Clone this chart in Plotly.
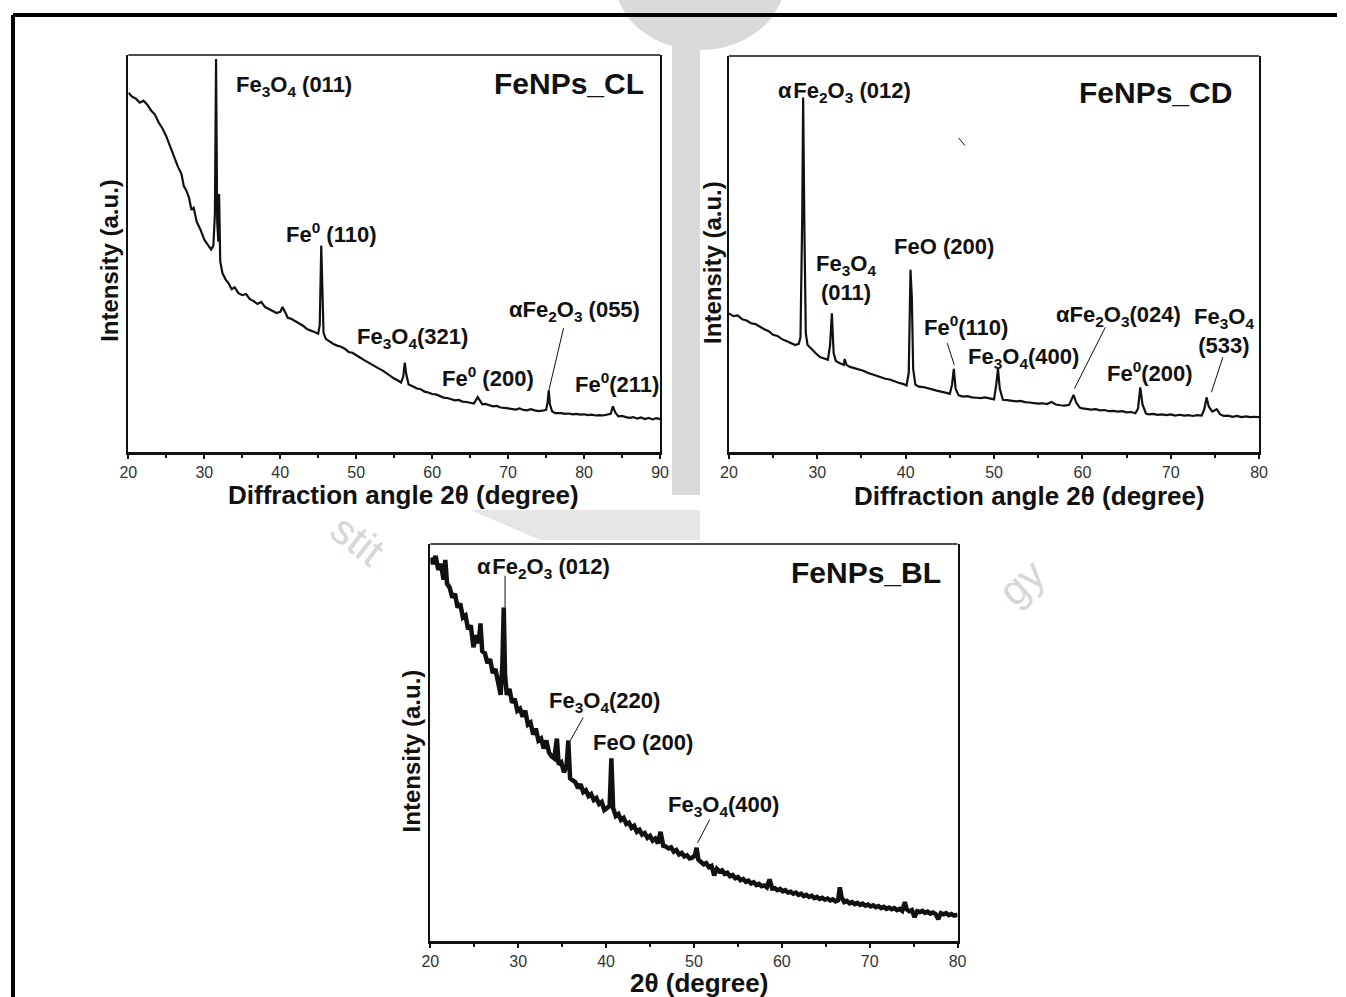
import plotly.graph_objects as go

W, H = 1346, 997
FONT = "Liberation Sans, Arial, sans-serif"
INK = "#111111"

# ---- FeNPs_CL : 2theta (degree) / intensity (a.u.)
cl_2theta = [20, 20.5, 21, 21.5, 22, 22.5, 23, 23.5, 24, 24.5, 25, 25.5, 26, 26.5, 27, 27.3, 27.6, 28, 28.3, 28.6,
             29, 29.5, 30, 30.5, 30.9, 31.2, 31.4, 31.55, 31.7, 31.85, 31.95, 32.1, 32.4, 32.8, 33.2, 33.6, 34, 34.5,
             35, 35.5, 36, 36.5, 37, 37.5, 38, 38.5, 39, 39.5, 40, 40.3, 40.7, 41, 41.5, 42, 42.5, 43, 43.5, 44,
             44.5, 45, 45.2, 45.4, 45.55, 45.7, 46, 46.5, 47, 47.5, 48, 48.5, 49, 49.5, 50, 50.5, 51, 51.5, 52,
             52.5, 53, 53.5, 54, 54.5, 55, 55.5, 55.9, 56.2, 56.4, 56.6, 56.9, 57.5, 58, 58.5, 59, 59.5, 60, 60.5,
             61, 61.5, 62, 62.5, 63, 63.5, 64, 64.5, 65, 65.5, 66, 66.3, 66.6, 67, 67.5, 68, 68.5, 69, 69.5, 70,
             70.5, 71, 71.5, 72, 72.5, 73, 73.5, 74, 74.5, 75, 75.2, 75.35, 75.5, 75.8, 76.2, 77, 77.5, 78, 78.5,
             79, 79.5, 80, 80.5, 81, 81.5, 82, 82.5, 83, 83.5, 83.8, 84.1, 84.5, 85, 85.5, 86, 86.5, 87, 87.5, 88,
             88.5, 89, 89.5, 90]
cl_int = [90.5, 89.5, 89, 88, 88.5, 87.5, 86, 85, 83, 81.5, 79.5, 77, 74, 72, 70, 67, 66, 64, 61, 61.5,
          58, 56, 53.5, 52, 51, 52, 60, 99, 58, 53, 65, 48, 45, 43.5, 42.5, 41, 41.5, 40,
          39.5, 39.8, 38.5, 38, 37.3, 37.8, 36.5, 36, 35.5, 35, 35.3, 36.5, 35, 33.8, 33.5, 33, 32.5, 31.8, 31, 30.5,
          30.2, 29.8, 32, 52, 38, 30, 28.5, 27.8, 27.2, 26.8, 26.5, 26, 25.2, 25, 24.3, 23.8, 23.2, 22.6, 22.2,
          21.6, 21, 20.5, 19.8, 19, 18.5, 18, 17.5, 19, 22.5, 19.5, 17, 16.5, 16, 15.8, 15.2, 15, 14.6, 14.5,
          14, 13.7, 13.6, 13.2, 13, 13.1, 12.7, 12.6, 12.4, 12.2, 13.8, 12.8, 12, 12.1, 11.7, 11.5, 11.6, 11.2, 11.1, 11,
          10.9, 10.7, 11, 10.6, 10.5, 10.8, 10.5, 10.3, 10.4, 10.6, 12.5, 15.5, 12, 10.2, 9.8, 9.8, 9.6, 9.7, 9.5,
          9.6, 9.4, 9.5, 9.3, 9.4, 9.2, 9.3, 9.2, 9.4, 9.6, 11.5, 10, 9, 9.1, 8.8, 8.6, 8.8, 8.4, 8.7, 8.3,
          8.6, 8.2, 8.5, 8.3]

# ---- FeNPs_CD
cd_2theta = [20, 20.5, 21, 21.5, 22, 22.5, 23, 23.5, 24, 24.5, 25, 25.5, 26, 26.5, 27, 27.5, 27.9, 28.1, 28.3, 28.4,
             28.55, 28.7, 28.9, 29.3, 29.8, 30.3, 30.8, 31.2, 31.45, 31.65, 31.85, 32.1, 32.5, 33, 33.1, 33.3, 33.7,
             34.2, 34.7, 35.2, 35.7, 36.2, 36.7, 37.2, 37.7, 38.2, 38.7, 39.2, 39.7, 40.1, 40.35, 40.55, 40.7, 40.85,
             41.1, 41.5, 42, 42.5, 43, 43.5, 44, 44.5, 45, 45.25, 45.45, 45.65, 46, 46.5, 47, 47.5, 48, 48.5, 49,
             49.5, 50, 50.25, 50.45, 50.65, 51, 51.5, 52, 52.5, 53, 53.5, 54, 54.5, 55, 55.5, 56, 56.5, 57, 57.5, 58,
             58.5, 58.8, 59.0, 59.3, 59.7, 60, 60.5, 61, 61.5, 62, 62.5, 63, 63.5, 64, 64.5, 65, 65.5, 66, 66.3,
             66.55, 66.8, 67.2, 67.5, 68, 68.5, 69, 69.5, 70, 70.5, 71, 71.5, 72, 72.5, 73, 73.5, 73.8, 74.05, 74.3,
             74.7, 75.2, 75.6, 76, 76.5, 77, 77.5, 78, 78.5, 79, 79.5, 80]
cd_int = [35, 34.3, 34.5, 33.5, 33.2, 32.5, 32.3, 31.6, 31, 30.5, 29.6, 29.3, 28.5, 28, 27.5, 27, 27.3, 29, 60, 89.5,
          55, 30, 27, 26, 25, 24, 23.5, 23.3, 27, 35, 25, 23, 22.5, 22, 23.5, 22, 21.5,
          21.2, 20.8, 20.5, 20, 19.6, 19.3, 19, 18.5, 18.3, 17.8, 17.5, 17.2, 16.8, 20, 46, 39, 21,
          17, 16.5, 16.4, 16, 15.8, 15.5, 15.3, 15, 14.7, 17, 21, 16, 14.3, 14, 14.1, 13.8, 13.7, 13.6, 13.8,
          13.5, 13.3, 17, 21, 16, 13.2, 13.1, 13, 12.8, 12.9, 12.6, 12.5, 12.4, 12.2, 12.3, 12.1, 12.6, 12, 11.8, 11.7,
          11.9, 13.5, 14.4, 12.5, 11.2, 11, 10.9, 10.7, 10.8, 10.5, 10.6, 10.3, 10.4, 10.2, 10.3, 10, 10.1, 9.8, 11,
          16.3, 12, 9.7, 9.5, 9.6, 9.4, 9.5, 9.3, 9.5, 9.2, 9.4, 9.2, 9.3, 9.1, 9.3, 9.2, 10.8, 13.8, 11.5,
          10.2, 10.8, 9.5, 9.1, 9.2, 8.9, 9.1, 8.8, 9, 8.8, 8.9, 8.8]

# ---- FeNPs_BL
bl_2theta = [20, 20.3, 20.6, 20.9, 21.2, 21.5, 21.7, 21.9, 22.2, 22.5, 22.8, 23.1, 23.4, 23.7, 24, 24.3, 24.6, 24.9,
             25.2, 25.5, 25.7, 25.9, 26.2, 26.5, 26.8, 27.1, 27.4, 27.7, 28.0, 28.2, 28.35, 28.5, 28.7, 29, 29.3,
             29.6, 29.9, 30.2, 30.5, 30.8, 31.1, 31.4, 31.7, 32, 32.3, 32.6, 32.9, 33.2, 33.5, 33.8, 34.1, 34.4,
             34.6, 34.9, 35.2, 35.5, 35.7, 35.9, 36.2, 36.5, 36.8, 37.1, 37.4, 37.7, 38, 38.3, 38.6, 38.9, 39.2,
             39.5, 39.8, 40.1, 40.4, 40.6, 40.8, 41.1, 41.4, 41.7, 42, 42.3, 42.6, 42.9, 43.2, 43.5, 43.8, 44.1,
             44.4, 44.7, 45, 45.3, 45.6, 45.9, 46.2, 46.5, 46.8, 47.1, 47.4, 47.7, 48, 48.3, 48.6, 48.9, 49.2,
             49.5, 49.8, 50.1, 50.3, 50.5, 50.8, 51.1, 51.4, 51.7, 52, 52.3, 52.6, 52.9, 53.2, 53.5, 53.8, 54.1,
             54.4, 54.7, 55, 55.3, 55.6, 55.9, 56.2, 56.5, 56.8, 57.1, 57.4, 57.7, 58, 58.3, 58.6, 58.9, 59.2,
             59.5, 59.8, 60.1, 60.4, 60.7, 61, 61.3, 61.6, 61.9, 62.2, 62.5, 62.8, 63.1, 63.4, 63.7, 64, 64.3,
             64.6, 64.9, 65.2, 65.5, 65.8, 66.1, 66.4, 66.6, 66.8, 67.1, 67.4, 67.7, 68, 68.3, 68.6, 68.9, 69.2,
             69.5, 69.8, 70.1, 70.4, 70.7, 71, 71.3, 71.6, 71.9, 72.2, 72.5, 72.8, 73.1, 73.4, 73.7, 74, 74.2,
             74.5, 74.8, 75.1, 75.4, 75.7, 76, 76.3, 76.6, 76.9, 77.2, 77.5, 77.8, 78.1, 78.4, 78.7, 79, 79.3,
             79.6, 80]
bl_int = [96.5, 95, 97, 93.5, 95, 91, 96, 90, 89, 86.5, 87.5, 84, 85, 81.5, 82, 78.5, 79.5, 74,
          77, 75, 80, 73, 72.5, 70, 71, 67.5, 68.5, 65, 62, 70, 84, 67, 62, 63.5, 60,
          61, 58, 58.5, 56.5, 58, 54.5, 55, 52, 53.5, 50.5, 51, 48.5, 50.5, 47.5, 46.5, 46, 51,
          44.5, 45, 42.5, 44, 50.5, 41, 40.5, 40, 38.5, 39.5, 37.5, 38, 36.5, 37, 35.5, 36, 34.5,
          35, 33, 33.5, 34, 46, 33.5, 31.5, 32, 30.5, 31, 29.5, 29.8, 28.5, 29, 27.5, 28, 26.8,
          27.2, 26, 26.5, 25.3, 25.8, 24.6, 27.5, 24, 23.8, 23.3, 23.6, 22.5, 22.9, 21.8, 22.2, 21.3, 21.6,
          20.8, 21, 21.5, 23.5, 20.5, 19.8, 19.3, 19.6, 18.6, 18.9, 16.5, 18.2, 17.5, 17.8, 16.9, 17.2, 16.3,
          16.6, 15.8, 16.1, 15.3, 15.6, 14.9, 15.2, 14.5, 14.8, 14.1, 14.4, 13.8, 14, 13.5, 15.5, 13.2, 13.3,
          12.8, 13.1, 12.5, 12.8, 12.2, 12.4, 11.9, 12.2, 11.6, 11.9, 11.3, 11.6, 11.1, 11.4, 10.8, 11.1, 10.6,
          10.9, 10.4, 10.7, 10.2, 10.5, 10, 10.3, 13.5, 11, 9.8, 10.1, 9.5, 9.8, 9.3, 9.6, 9.1, 9.4,
          8.9, 9.2, 8.7, 9, 8.5, 8.8, 8.3, 8.6, 8.1, 8.4, 8, 8.3, 7.8, 8.1, 7.6, 9.8, 8,
          7.5, 7.8, 6, 7.5, 7.3, 7.6, 7.1, 7.4, 6.9, 7.2, 6.8, 5.5, 7, 6.7, 7, 6.5, 6.8,
          6.4, 6.6]

x_ticks = [20, 30, 40, 50, 60, 70, 80, 90]

# peak labels: text, 2theta, intensity
cl_labels = [("Fe<sub>3</sub>O<sub>4</sub> (011)", 33.87, 92.2),
             ("Fe<sup>0</sup> (110)", 40.44, 55.2),
             ("Fe<sub>3</sub>O<sub>4</sub>(321)", 49.78, 28.7),
             ("Fe<sup>0</sup> (200)", 61.08, 18.9),
             ("αFe<sub>2</sub>O<sub>3</sub> (055)", 69.89, 35.5),
             ("Fe<sup>0</sup>(211)", 78.56, 17.4)]
cd_labels = [("α\u200aFe<sub>2</sub>O<sub>3</sub> (012)", 25.31, 90.9),
             ("FeO (200)", 38.42, 52.0),
             ("Fe<sup>0</sup>(110)", 41.81, 31.8),
             ("Fe<sub>3</sub>O<sub>4</sub>(400)", 46.78, 23.7),
             ("αFe<sub>2</sub>O<sub>3</sub>(024)", 56.84, 34.3),
             ("Fe<sup>0</sup>(200)", 62.6, 20.2)]
cd_labels_two_line = [("Fe<sub>3</sub>O<sub>4</sub><br>(011)", 33.22, 44.0),
                      ("Fe<sub>3</sub>O<sub>4</sub><br>(533)", 76.05, 30.6)]
bl_labels = [("α\u200aFe<sub>2</sub>O<sub>3</sub> (012)", 25.11, 94.0),
             ("Fe<sub>3</sub>O<sub>4</sub>(220)", 33.3, 60.2),
             ("FeO (200)", 38.3, 50.1),
             ("Fe<sub>3</sub>O<sub>4</sub>(400)", 46.8, 34.0)]

# leader lines: x0, y0, x1, y1
cl_leaders = [(77.3, 31.2, 75.3, 15.0)]
cd_leaders = [(44.7, 27.5, 45.5, 22.0), (62.6, 31.5, 59.1, 16.0), (75.9, 23.9, 74.6, 15.1),
              (46.0, 79.3, 46.7, 77.4)]
bl_leaders = [(28.5, 92.0, 28.5, 84.0), (37.4, 56.3, 35.9, 50.4), (51.8, 30.6, 50.4, 24.7)]


# the page draws the figure 8px in from the left and 1330px wide; map target pixels to paper
def px(x):
    return (x - 8) / 1330


def py(y):
    return 1 - y / H


fig = go.Figure()

fig.add_trace(go.Scatter(x=cl_2theta, y=cl_int, mode="lines", xaxis="x", yaxis="y",
                         line=dict(color=INK, width=2.2), showlegend=False))
fig.add_trace(go.Scatter(x=cd_2theta, y=cd_int, mode="lines", xaxis="x2", yaxis="y2",
                         line=dict(color=INK, width=2.2), showlegend=False))
fig.add_trace(go.Scatter(x=bl_2theta, y=bl_int, mode="lines", xaxis="x3", yaxis="y3",
                         line=dict(color=INK, width=4.5), showlegend=False))


def xaxis(dom, anchor, rng):
    return dict(domain=dom, anchor=anchor, range=rng, tickvals=[t for t in x_ticks if t <= rng[1]],
                ticks="outside", ticklen=4, tickwidth=2, tickcolor=INK,
                minor=dict(ticks="outside", ticklen=3, tickwidth=1.5, tickcolor=INK, dtick=5, tick0=20),
                showline=True, linecolor=INK, linewidth=2.5, mirror=False,
                showgrid=False, zeroline=False,
                tickfont=dict(family=FONT, size=16, color="#333333"))


def yaxis(dom, anchor):
    return dict(domain=dom, anchor=anchor, range=[0, 100], showline=True, linecolor=INK, linewidth=1.5,
                mirror=True, showticklabels=False, ticks="", showgrid=False, zeroline=False)


fig.update_layout(
    width=W, height=H, autosize=False,
    margin=dict(l=0, r=0, t=0, b=0),
    paper_bgcolor="white", plot_bgcolor="white",
    xaxis=xaxis([px(127.5), px(660)], "y", [20, 90]),
    yaxis=yaxis([py(452), py(55)], "x"),
    xaxis2=xaxis([px(729), px(1260)], "y2", [20, 80]),
    yaxis2=yaxis([py(452), py(56)], "x2"),
    xaxis3=xaxis([px(430), px(958)], "y3", [20, 80]),
    yaxis3=yaxis([py(941), py(544)], "x3"),
)

shapes = []
# faint watermark behind the panels
wm = "#d9d9d9"
shapes.append(dict(type="circle", xref="paper", yref="paper", x0=px(615), x1=px(785), y0=py(50), y1=py(-90),
                   fillcolor=wm, line=dict(width=0), layer="below"))
shapes.append(dict(type="rect", xref="paper", yref="paper", x0=px(672), x1=px(700), y0=py(495), y1=py(40),
                   fillcolor=wm, line=dict(width=0), layer="below"))
shapes.append(dict(type="path", xref="paper", yref="paper",
                   path="M %f %f L %f %f L %f %f L %f %f Z" % (px(470), py(510), px(700), py(510),
                                                               px(700), py(540), px(540), py(540)),
                   fillcolor="#e6e6e6", line=dict(width=0), layer="below"))

# outer frame (top and left)
shapes.append(dict(type="line", xref="paper", yref="paper", x0=px(12), x1=1, y0=py(15), y1=py(15),
                   line=dict(color="black", width=4)))
shapes.append(dict(type="line", xref="paper", yref="paper", x0=px(12), x1=px(12), y0=py(15), y1=0,
                   line=dict(color="black", width=4)))

# top border of each panel
for xa, ya in [("x", "y"), ("x2", "y2"), ("x3", "y3")]:
    shapes.append(dict(type="line", xref=xa + " domain", yref=ya + " domain", x0=0, x1=1, y0=1, y1=1,
                       line=dict(color=INK, width=1.5)))

for xa, ya, leaders in [("x", "y", cl_leaders), ("x2", "y2", cd_leaders), ("x3", "y3", bl_leaders)]:
    for x0, y0, x1, y1 in leaders:
        shapes.append(dict(type="line", xref=xa, yref=ya, x0=x0, y0=y0, x1=x1, y1=y1,
                           line=dict(color=INK, width=1)))

fig.update_layout(shapes=shapes)

label_font = dict(family=FONT, size=22, color=INK, weight="bold")
for xa, ya, labels in [("x", "y", cl_labels), ("x2", "y2", cd_labels), ("x3", "y3", bl_labels)]:
    for text, x, y in labels:
        fig.add_annotation(x=x, y=y, xref=xa, yref=ya, text=text, showarrow=False,
                           xanchor="left", yanchor="middle", font=label_font)
for text, x, y in cd_labels_two_line:
    fig.add_annotation(x=x, y=y, xref="x2", yref="y2", text=text, showarrow=False,
                       xanchor="center", yanchor="middle", align="center", font=label_font)

# sample names
name_font = dict(family=FONT, size=30, color=INK, weight="bold")
for text, xa, ya, x, y in [("FeNPs_CL", "x", "y", 88.16, 92.7),
                           ("FeNPs_CD", "x2", "y2", 77.18, 90.9),
                           ("FeNPs_BL", "x3", "y3", 78.3, 92.9)]:
    fig.add_annotation(x=x, y=y, xref=xa, yref=ya, text=text, showarrow=False,
                       xanchor="right", yanchor="middle", font=name_font)

# axis titles
title_font = dict(family=FONT, size=26, color=INK, weight="bold")
for text, x, y in [("Diffraction angle 2θ (degree)", 403, 495),
                   ("Diffraction angle 2θ (degree)", 1030, 496),
                   ("2θ (degree)", 699, 983)]:
    fig.add_annotation(x=px(x), y=py(y), xref="paper", yref="paper", text=text, showarrow=False,
                       xanchor="center", yanchor="middle", font=title_font)
for x, y in [(108, 260), (713, 262), (411, 751)]:
    fig.add_annotation(x=px(x), y=py(y), xref="paper", yref="paper", text="Intensity (a.u.)",
                       showarrow=False, textangle=-90, xanchor="center", yanchor="middle",
                       font=dict(family=FONT, size=24, color=INK, weight="bold"))

# watermark lettering
for text, x, y, ang in [("stit", 358, 540, 38), ("gy", 1022, 582, -42)]:
    fig.add_annotation(x=px(x), y=py(y), xref="paper", yref="paper", text=text, showarrow=False,
                       xanchor="center", yanchor="middle",
                       textangle=ang, font=dict(family=FONT, size=42, color="#d6d6d6"))

post = ("document.body.style.margin='0';document.body.style.overflow='hidden';"
        "var gd=document.getElementById('{plot_id}');gd.style.width='1346px';gd.style.height='997px';"
        "var sz=new Object();sz.width=1346;sz.height=997;sz.autosize=false;Plotly.relayout(gd,sz);")
fig.write_html("out.html", config=dict(displayModeBar=False, responsive=False), post_script=post)
